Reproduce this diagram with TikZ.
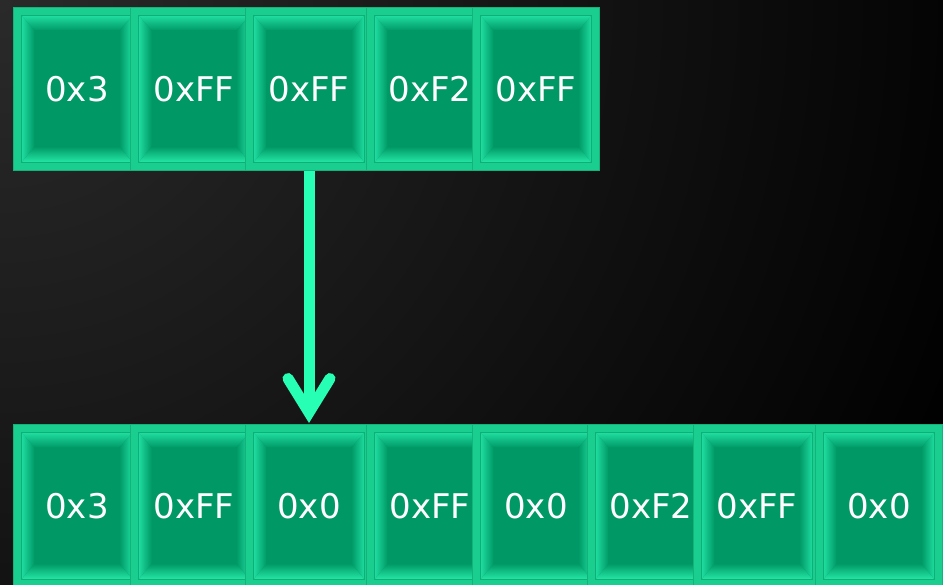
\documentclass[tikz,border=0pt]{standalone}
\usepackage{fontspec}
\usetikzlibrary{calc}
\newfontfamily\cellfont{DejaVu Sans}

\definecolor{framefill}{HTML}{1ACE8F}
\definecolor{frameline}{HTML}{12B47C}
\definecolor{facegreen}{HTML}{009966}
\definecolor{bevhigh}{HTML}{1FDDA0}
\definecolor{bevlow}{HTML}{25E8A6}
\definecolor{bevline}{HTML}{0FAF78}
\definecolor{arrowgreen}{HTML}{26FFB4}
\definecolor{bgglow}{HTML}{2A2A2A}

% raised bevel drawn inside each cell
\newcommand\bevelface{%
  \coordinate (bA) at ([shift={(8pt,-8pt)}]path picture bounding box.north west);
  \coordinate (bB) at ([shift={(-8pt,-8pt)}]path picture bounding box.north east);
  \coordinate (bC) at ([shift={(-8pt,8pt)}]path picture bounding box.south east);
  \coordinate (bD) at ([shift={(8pt,8pt)}]path picture bounding box.south west);
  \coordinate (iA) at ([shift={(13pt,-15pt)}]bA);
  \coordinate (iB) at ([shift={(-13pt,-15pt)}]bB);
  \coordinate (iC) at ([shift={(-13pt,16pt)}]bC);
  \coordinate (iD) at ([shift={(13pt,16pt)}]bD);
  \fill[facegreen] (bA) rectangle (bC);
  \shade[top color=bevhigh, bottom color=facegreen] (bA) -- (bB) -- (iB) -- (iA) -- cycle;
  \shade[top color=facegreen, bottom color=bevlow] (bD) -- (bC) -- (iC) -- (iD) -- cycle;
  \shade[left color=bevhigh, right color=facegreen] (bA) -- (iA) -- (iD) -- (bD) -- cycle;
  \shade[left color=facegreen, right color=bevhigh] (bB) -- (iB) -- (iC) -- (bC) -- cycle;
  \fill[facegreen] (iA) rectangle (iC);
  \draw[bevline, line width=0.8pt] (bA) rectangle (bC);
}

\tikzset{
  cell/.style={draw=frameline, line width=1pt, fill=framefill,
    minimum width=127pt, minimum height=163pt, inner sep=0pt,
    anchor=north west, text=white,
    font=\cellfont\fontsize{34}{34}\selectfont,
    path picture={\bevelface}},
  flow/.style={draw=arrowgreen, line width=11pt},
  barb/.style={draw=arrowgreen, line width=11pt, line cap=round, line join=miter},
}

\begin{document}
\begin{tikzpicture}[x=1pt, y=-1pt]
  % dark backdrop, lighter towards the upper left
  \fill[black] (0,0) rectangle (943,585);
  \begin{scope}
    \clip (0,0) rectangle (943,585);
    \shade[inner color=bgglow, outer color=black] (0,0) circle (1050);
  \end{scope}
  \useasboundingbox (0,0) rectangle (943,585);

  % source bytes
  \foreach \i/\x/\lbl in {1/13/0x3, 2/130/0xFF, 3/245/0xFF, 4/366/0xF2, 5/472/0xFF}
    \node[cell] (t\i) at (\x,7) {\lbl};

  % result bytes
  \foreach \i/\x/\lbl in {1/13/0x3, 2/130/0xFF, 3/245/0x0, 4/366/0xFF,
                          5/472/0x0, 6/587/0xF2, 7/693/0xFF, 8/815/0x0}
    \node[cell] (b\i) at (\x,424) {\lbl};

  % conversion arrow
  \coordinate (vtx) at ($(b3.north)+(0,-11.5)$);
  \draw[flow] (t3.south) -- (vtx);
  \draw[barb] ($(vtx)+(-21,-34)$) -- (vtx) -- ($(vtx)+(21,-34)$);
\end{tikzpicture}
\end{document}
